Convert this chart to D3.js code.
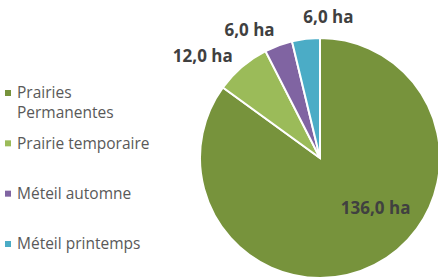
<!DOCTYPE html>
<html lang="fr">
<head>
<meta charset="utf-8">
<script src="https://cdn.jsdelivr.net/npm/d3@7"></script>
<style>
  body { margin: 0; background: #fff; }
  text { font-family: "Open Sans", "Liberation Sans", sans-serif; }
</style>
</head>
<body>
<script>
var width = 438, height = 279;

var categories = ["Prairies Permanentes", "Prairie temporaire", "Méteil automne", "Méteil printemps"];
var legendLines = [["Prairies", "Permanentes"], ["Prairie temporaire"], ["Méteil automne"], ["Méteil printemps"]];
var values = [136, 12, 6, 6];
var valueLabels = ["136,0 ha", "12,0 ha", "6,0 ha", "6,0 ha"];
var colors = ["#77933c", "#9bbb59", "#8064a2", "#4bacc6"];

var svg = d3.select("body").append("svg")
  .attr("width", width)
  .attr("height", height);

var cx = 320, cy = 158, radius = 120;

var pie = d3.pie().sort(null).value(function(d) { return d; });
var arcs = pie(values);
var arc = d3.arc().innerRadius(0).outerRadius(radius);

var g = svg.append("g").attr("transform", "translate(" + cx + "," + cy + ")");

g.selectAll("path")
  .data(arcs)
  .enter()
  .append("path")
  .attr("d", arc)
  .attr("fill", function(d, i) { return colors[i]; })
  .attr("stroke", "#fff")
  .attr("stroke-width", 2);

// label placement (like excel "best fit"): radius factor, anchor, x shift
var placement = [
  { r: 0.47, anchor: "middle", dx: 30 },
  { r: 1.12, anchor: "end", dx: 0 },
  { r: 1.14, anchor: "end", dx: 2 },
  { r: 1.18, anchor: "start", dx: 0 }
];

g.selectAll("text.lbl")
  .data(arcs)
  .enter()
  .append("text")
  .attr("class", "lbl")
  .attr("transform", function(d, i) {
    var p = placement[i];
    var c = d3.arc().innerRadius(radius * p.r).outerRadius(radius * p.r).centroid(d);
    return "translate(" + (c[0] + p.dx) + "," + c[1] + ")";
  })
  .attr("text-anchor", function(d, i) { return placement[i].anchor; })
  .attr("dy", "0.35em")
  .attr("font-size", 17)
  .attr("font-weight", "bold")
  .attr("fill", "#404040")
  .text(function(d, i) { return valueLabels[i]; });

// legend
var legendY = d3.scalePoint()
  .domain(categories)
  .range([93, 244]);

var legend = svg.selectAll("g.legend")
  .data(categories)
  .enter()
  .append("g")
  .attr("class", "legend")
  .attr("transform", function(d) { return "translate(5," + legendY(d) + ")"; });

legend.append("rect")
  .attr("x", 0)
  .attr("y", -3)
  .attr("width", 6)
  .attr("height", 6)
  .attr("fill", function(d, i) { return colors[i]; });

legend.each(function(d, i) {
  var t = d3.select(this).append("text")
    .attr("font-size", 15.5)
    .attr("fill", "#595959");
  legendLines[i].forEach(function(line, j) {
    t.append("tspan")
      .attr("x", 12)
      .attr("y", j * 20)
      .attr("dy", "0.35em")
      .text(line);
  });
});
</script>
</body>
</html>
